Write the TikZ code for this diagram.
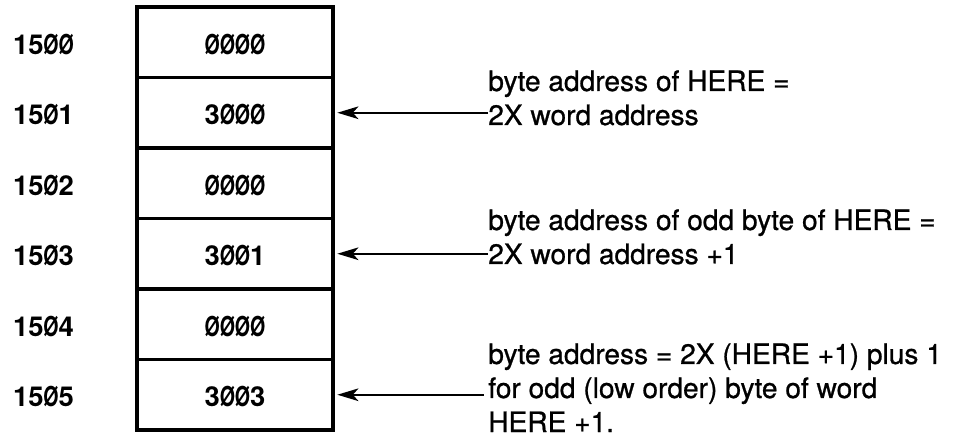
\documentclass[tikz,border=0pt]{standalone}
\usepackage{fontspec}
\setmainfont{TeX Gyre Heros}
\newfontfamily\notefont{TeX Gyre Heros}[FakeBold=0.8]
\usetikzlibrary{arrows.meta}
\newcommand{\zr}{\makebox[0.556em]{\scalebox{0.715}[1]{Ø}}}
\tikzset{
  cell/.style={draw,line width=2.2pt,minimum width=4.9cm,minimum height=1.7625cm,inner sep=0pt},
  num/.style={inner sep=0pt,font=\fontsize{19.5}{23}\selectfont\bfseries},
  note/.style={align=left,anchor=base west,inner sep=0pt,font=\notefont\fontsize{20}{24.2}\selectfont},
  arr/.style={line width=1.4pt,-{Stealth[length=15pt,width=9pt,inset=4pt]},shorten >=2pt}
}

\begin{document}
\begin{tikzpicture}
  \useasboundingbox (0,0) rectangle (24.125,-10.95);

  % memory cells and their word addresses
  \foreach \v/\a [count=\i from 0] in {\zr\zr\zr\zr/15\zr\zr,3\zr\zr\zr/15\zr1,\zr\zr\zr\zr/15\zr2,
                                       3\zr\zr1/15\zr3,\zr\zr\zr\zr/15\zr4,3\zr\zr3/15\zr5}{
    \node[cell] (c\i) at (5.875,{-0.175-1.7625*(\i+0.5)}) {};
    \node[num] (v\i) at ([yshift=-0.05cm]c\i.center) {\v};
    \node[num] (a\i) at (1.0875,{-0.225-1.7625*(\i+0.5)}) {\a};
  }

  % notes (base = last line)
  \node[note] (n1) at (12.2,-3.125) {byte address of HERE =\\2X word address};
  \node[note] (n2) at (12.2,-6.6) {byte address of odd byte of HERE =\\2X word address +1};
  \node[note] (n3) at (12.2,-10.8) {byte address = 2X (HERE +1) plus 1\\for odd (low order) byte of word\\HERE +1.};

  \draw[arr] (n1.west |- c1.east) -- (c1.east);
  \draw[arr] (n2.west |- c3.east) -- (c3.east);
  \draw[arr] ([xshift=-3pt]n3.west |- c5.east) -- (c5.east);
\end{tikzpicture}
\end{document}
